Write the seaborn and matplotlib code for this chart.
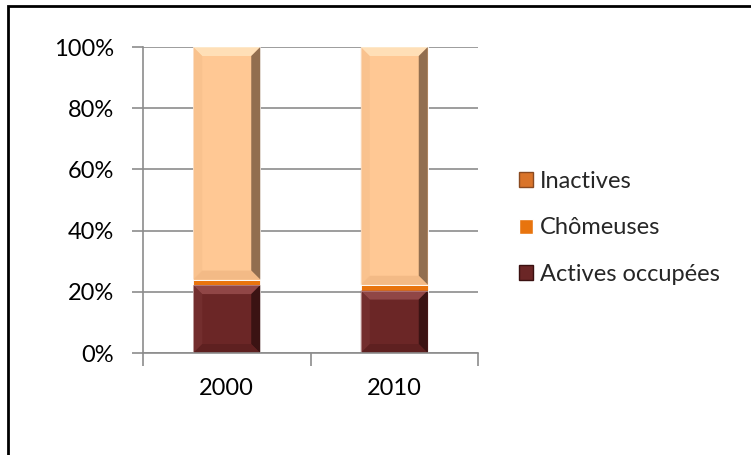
import matplotlib
matplotlib.use("Agg")
import matplotlib.pyplot as plt
import seaborn as sns
import pandas as pd
import numpy as np
from matplotlib.patches import Patch, Polygon, Rectangle

# ---- data ----
years = ["2000", "2010"]
actives_occupees = [22.2, 20.4]
chomeuses = [1.8, 1.9]
inactives = [76.0, 77.7]
series_names = ["Actives occupées", "Chômeuses", "Inactives"]
y_ticks = [0, 20, 40, 60, 80, 100]
y_tick_labels = ["0%", "20%", "40%", "60%", "80%", "100%"]

colors = {"Actives occupées": "#6B2626", "Chômeuses": "#E8740E", "Inactives": "#FFC894"}
bevel = {
    "Actives occupées": ("#9A4F4F", "#7A3434", "#2B0D0D", "#521B1B"),
    "Inactives": ("#FFE6C0", "#F5BE8A", "#6E5038", "#E8AE7A"),
}

sns.set_theme(style="white")
plt.rcParams["font.family"] = ["Lato", "DejaVu Sans"]
FS = 17

fig = plt.figure(figsize=(7.51, 4.55), dpi=100)
ax = fig.add_axes([143 / 751, (455 - 353) / 455, 335 / 751, 306 / 455])

df = pd.DataFrame({"year": years, "Actives occupées": actives_occupees,
                   "Chômeuses": chomeuses, "Inactives": inactives})

bottoms = np.zeros(len(years))
for name in series_names:
    sns.barplot(data=df, x="year", y=name, ax=ax, color=colors[name], width=0.4,
                bottom=bottoms.copy(), saturation=1, edgecolor="white", linewidth=0.6)
    bottoms = bottoms + df[name].values

ax.set_xlim(-0.5, 1.5)
ax.set_ylim(0, 100)

# bevel effect derived from drawn bar patches
fig.canvas.draw()
inv = ax.transData.inverted()
patch_names = []
for name in series_names:
    patch_names += [name] * len(years)
for p, name in zip(ax.patches, patch_names):
    if name not in bevel:
        continue
    x0, y0 = p.get_x(), p.get_y()
    w, h = p.get_width(), p.get_height()
    (px0, py0) = ax.transData.transform((x0, y0))
    (px1, py1) = ax.transData.transform((x0 + w, y0 + h))
    b = min(9, (py1 - py0) / 2)
    def d(px, py):
        return inv.transform((px, py))
    top, left, right, bot = bevel[name]
    polys = [
        ([(px0, py1), (px1, py1), (px1 - b, py1 - b), (px0 + b, py1 - b)], top, 0.8),
        ([(px0, py0), (px0, py1), (px0 + b, py1 - b), (px0 + b, py0 + b)], left, 0.6),
        ([(px1, py0), (px1, py1), (px1 - b, py1 - b), (px1 - b, py0 + b)], right, 0.75),
        ([(px0, py0), (px1, py0), (px1 - b, py0 + b), (px0 + b, py0 + b)], bot, 0.5),
    ]
    for pts, c, a in polys:
        ax.add_patch(Polygon([d(*q) for q in pts], closed=True, facecolor=c,
                             edgecolor="none", alpha=a, zorder=p.get_zorder() + 0.1))

# axes styling
ax.set_yticks(y_ticks)
ax.set_yticklabels(y_tick_labels)
ax.set_xlabel("")
ax.set_ylabel("")
ax.yaxis.grid(True, color="#8C8C8C", linewidth=1.2)
ax.set_axisbelow(True)
for s in ["top", "right"]:
    ax.spines[s].set_visible(False)
for s in ["left", "bottom"]:
    ax.spines[s].set_color("#8C8C8C")
    ax.spines[s].set_linewidth(1.2)
ax.tick_params(axis="y", length=8, width=1.2, color="#8C8C8C", pad=13, labelsize=FS,
               left=True, direction="out")
ax.set_xticks([-0.5, 0.5, 1.5], minor=True)
ax.tick_params(axis="x", which="minor", length=9, width=1.2, color="#8C8C8C", bottom=True,
               direction="out")
ax.tick_params(axis="x", which="major", length=0, pad=18, labelsize=FS)
for lab in ax.get_xticklabels() + ax.get_yticklabels():
    lab.set_color("black")

handles = [Patch(facecolor="#D9742A", edgecolor="#8A4A20", label="Inactives"),
           Patch(facecolor=colors["Chômeuses"], label="Chômeuses"),
           Patch(facecolor=colors["Actives occupées"], edgecolor="#3A1010", label="Actives occupées")]
fig.legend(handles=handles, loc="center left", bbox_to_anchor=(519 / 751, (455 - 228) / 455),
           frameon=False, fontsize=FS, handlelength=0.6, handleheight=0.6,
           handletextpad=0.3, labelspacing=1.08, borderaxespad=0, borderpad=0)

fig.patches.append(Rectangle((8 / 751, -0.05), 1.2, (455 - 6) / 455 + 0.05,
                             transform=fig.transFigure, fill=False, edgecolor="black",
                             linewidth=2, zorder=10))

fig.savefig("out.png", dpi=100, facecolor="white")
